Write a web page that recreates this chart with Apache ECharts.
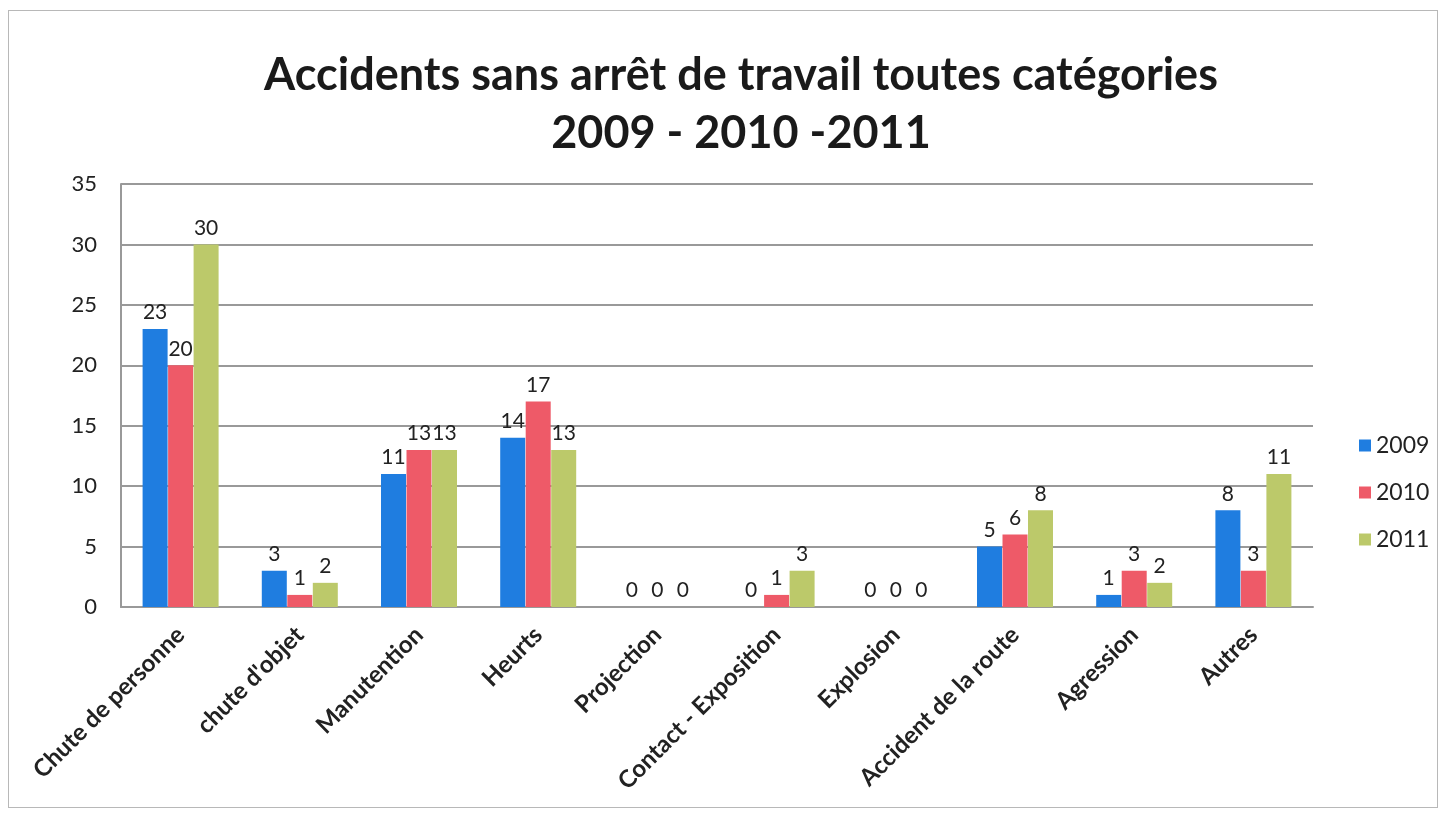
<!DOCTYPE html>
<html>
<head>
<meta charset="utf-8">
<script src="https://cdn.jsdelivr.net/npm/echarts@6/dist/echarts.min.js"></script>
<style>
  html, body { margin: 0; padding: 0; background: #fff; }
  #chart { position: absolute; left: 8px; top: 10px; width: 1430px; height: 798px; border: 1px solid #b8b8b8; box-sizing: border-box; }
</style>
</head>
<body>
<div id="chart"></div>
<script>
const categories = [
  "Chute de personne", "chute d'objet", "Manutention", "Heurts", "Projection",
  "Contact - Exposition", "Explosion", "Accident de la route", "Agression", "Autres"
];
const values2009 = [23, 3, 11, 14, 0, 0, 0, 5, 1, 8];
const values2010 = [20, 1, 13, 17, 0, 1, 0, 6, 3, 3];
const values2011 = [30, 2, 13, 13, 0, 3, 0, 8, 2, 11];
const yTicks = { min: 0, max: 35, interval: 5 };

const chart = echarts.init(document.getElementById("chart"));

const font = "Lato, 'Open Sans', sans-serif";
const label = {
  show: true,
  position: "top",
  distance: 6,
  color: "#222",
  fontSize: 21,
  fontFamily: font
};

const option = {
  animation: false,
  color: ["#1f7de0", "#ee5a68", "#bcc96a"],
  title: {
    text: "Accidents sans arrêt de travail toutes catégories\n2009 - 2010 -2011",
    left: 727,
    top: 30,
    textAlign: "center",
    textStyle: {
      fontFamily: font,
      fontWeight: "bold",
      fontSize: 45,
      lineHeight: 58,
      color: "#1a1a1a"
    }
  },
  legend: {
    orient: "vertical",
    left: 1345,
    top: 418,
    itemWidth: 12,
    itemHeight: 12,
    itemGap: 24,
    icon: "rect",
    textStyle: { fontFamily: font, fontSize: 23, color: "#222" },
    data: ["2009", "2010", "2011"]
  },
  grid: {
    left: 112,
    top: 173,
    width: 1192,
    height: 423,
    containLabel: false
  },
  xAxis: {
    type: "category",
    data: categories,
    axisLine: { show: true, lineStyle: { color: "#999", width: 2 } },
    axisTick: { show: false },
    axisLabel: {
      rotate: 45,
      margin: 24,
      interval: 0,
      fontFamily: font,
      fontSize: 24,
      fontWeight: "bold",
      color: "#222"
    }
  },
  yAxis: {
    type: "value",
    min: yTicks.min,
    max: yTicks.max,
    interval: yTicks.interval,
    axisLine: { show: true, lineStyle: { color: "#999", width: 2 } },
    axisTick: { show: false },
    axisLabel: { margin: 24, fontFamily: font, fontSize: 22, color: "#222" },
    splitLine: { lineStyle: { color: "#999", width: 2 } }
  },
  series: [
    { name: "2009", type: "bar", data: values2009, barWidth: 25, barGap: "2%", label: label },
    { name: "2010", type: "bar", data: values2010, barWidth: 25, barGap: "2%", label: label },
    { name: "2011", type: "bar", data: values2011, barWidth: 25, barGap: "2%", label: label }
  ]
};

chart.setOption(option);
</script>
</body>
</html>
